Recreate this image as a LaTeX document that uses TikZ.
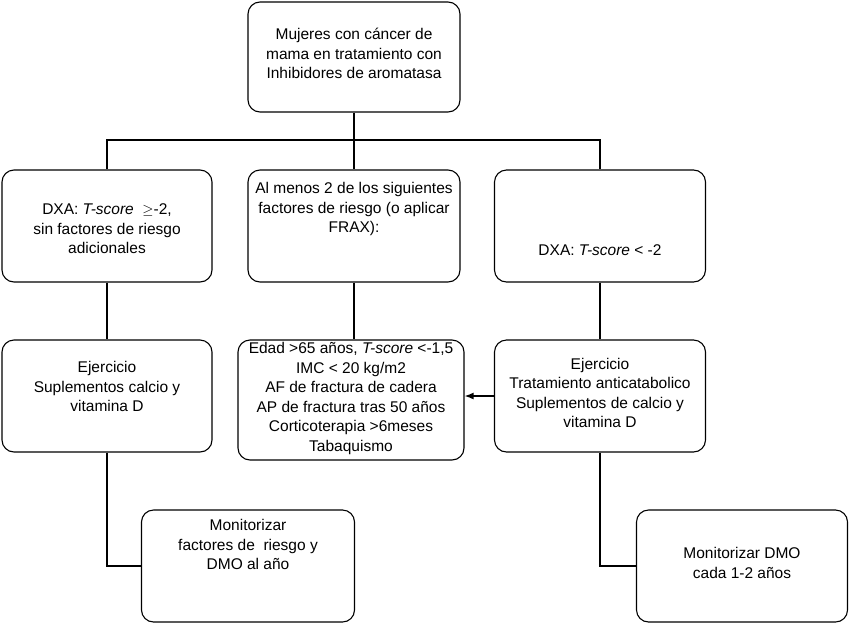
\documentclass[tikz,border=0pt]{standalone}
\usepackage{fontspec}
\setmainfont{Liberation Sans}
\usetikzlibrary{arrows.meta}
\newcommand{\bxt}[2]{\raisebox{#1}[0pt][0pt]{\begin{tabular}{@{}c@{}}#2\end{tabular}}}
\begin{document}
\begin{tikzpicture}[x=1pt,y=-1pt,
  bx/.style={draw,line width=1.1pt,rounded corners=12pt,font=\fontsize{15.5}{19.5}\selectfont,inner sep=0pt},
  ln/.style={line width=1.8pt}]
\useasboundingbox (0,0) rectangle (850,624);
\node[bx,minimum width=212pt,minimum height=110pt] (top) at (354,57) {\bxt{-2pt}{Mujeres con cáncer de\\mama en tratamiento con\\Inhibidores de aromatasa}};
\node[bx,minimum width=210pt,minimum height=112pt] (l2) at (107,226) {\bxt{-8pt}{DXA: \textit{T-score} \ $\geq$-2,\\sin factores de riesgo\\adicionales}};
\node[bx,minimum width=212pt,minimum height=112pt] (m2) at (354,226) {\bxt{13pt}{Al menos 2 de los siguientes\\factores de riesgo (o aplicar\\FRAX):}};
\node[bx,minimum width=211pt,minimum height=112pt] (r2) at (600,226) {\bxt{-29pt}{DXA: \textit{T-score} < -2}};
\node[bx,minimum width=210pt,minimum height=112pt] (l3) at (107,396) {\bxt{4pt}{Ejercicio\\Suplementos calcio y\\vitamina D}};
\node[bx,minimum width=226pt,minimum height=120pt] (m3) at (351,400) {\bxt{-2pt}{Edad >65 años, \textit{T-score} <-1,5\\IMC < 20 kg/m2\\AF de fractura de cadera\\AP de fractura tras 50 años\\Corticoterapia >6meses\\Tabaquismo}};
\node[bx,minimum width=211pt,minimum height=112pt] (r3) at (600,396) {\bxt{-2pt}{Ejercicio\\Tratamiento anticatabolico\\Suplementos de calcio y\\vitamina D}};
\node[bx,minimum width=213pt,minimum height=112pt] (l4) at (248,566) {\bxt{16pt}{Monitorizar\\factores de \ riesgo y\\DMO al año}};
\node[bx,minimum width=211pt,minimum height=112pt] (r4) at (742,566) {\bxt{-2pt}{Monitorizar DMO\\cada 1-2 años}};
\coordinate (j) at (354,140);
\draw[ln] (top.south) -- (j);
\draw[ln] (l2.north) -- (107,140) -- (600,140) -- (r2.north);
\draw[ln] (j) -- (m2.north);
\draw[ln] (l2.south) -- (l3.north);
\draw[ln] (m2.south) -- (m2.south |- m3.north);
\draw[ln] (r2.south) -- (r3.north);
\draw[ln] (l3.south) |- (l4.west);
\draw[ln] (r3.south) |- (r4.west);
\draw[line width=1.5pt,-{Latex[length=9pt,width=7pt]}] (r3.west) -- (r3.west -| m3.east);
\end{tikzpicture}
\end{document}
